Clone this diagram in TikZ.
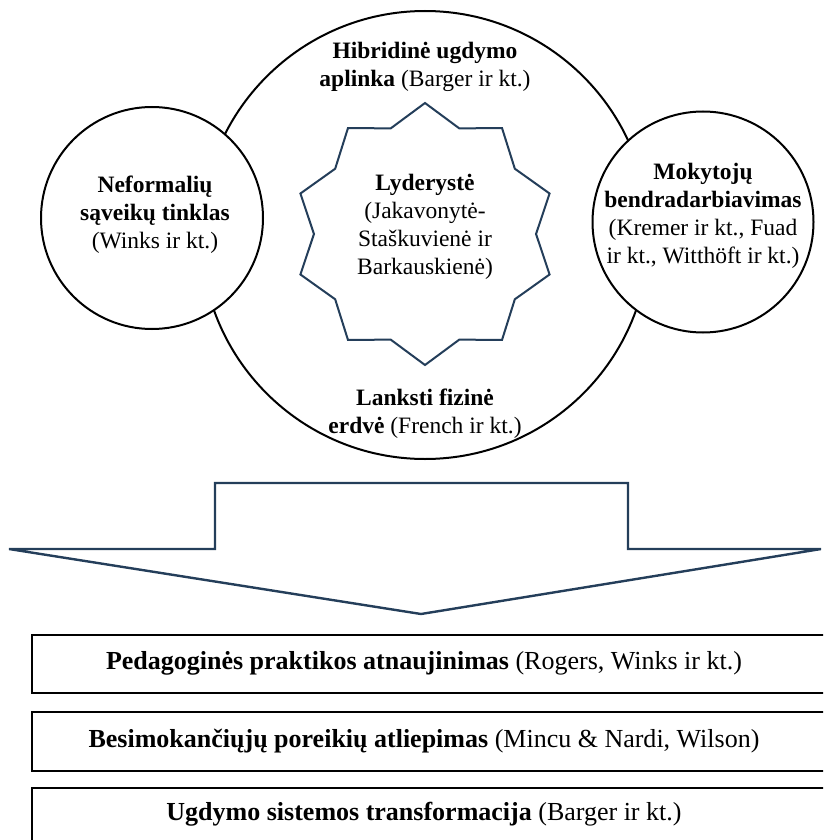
\documentclass[tikz,border=0pt]{standalone}
\usepackage{fontspec}
\setmainfont{Liberation Serif}
\usetikzlibrary{shapes.geometric}
\definecolor{navy}{RGB}{36,62,90}
\begin{document}
\begin{tikzpicture}[x=1pt,y=-1pt,
  ring/.style={circle,draw=black,line width=2pt,fill=white,inner sep=0pt},
  lbl/.style={align=center,font=\fontsize{23.5}{28}\selectfont,inner sep=0pt},
  boxlbl/.style={align=center,font=\fontsize{26}{30}\selectfont,inner sep=0pt},
  outcome/.style={draw=black,line width=1.6pt,fill=white,inner sep=0pt,anchor=north west},
  flow/.style={draw=navy,line width=2.4pt,line join=miter}]
\useasboundingbox (0,0) rectangle (823,840);
\clip (0,0) rectangle (823,840);

% outer environment circle
\node[ring,minimum size=448pt] (env) at (425,235) {};
% side circles drawn on top
\node[ring,minimum size=222pt] (left) at (152,218) {};
\node[ring,minimum size=221pt] (right) at (703,222) {};

% central star
\node[star,star points=10,star point ratio=1.18,draw=navy,line width=2pt,
      minimum size=262pt,inner sep=0pt] (lead) at (425,234) {};

% labels
\node[lbl] (envtop) at (425,67) {\textbf{Hibridinė ugdymo}\\\textbf{aplinka} (Barger ir kt.)};
\node[lbl] (envbot) at (425,414) {\textbf{Lanksti fizinė}\\\textbf{erdvė} (French ir kt.)};
\node[lbl] (leadtxt) at (lead.center) [yshift=7pt] {\textbf{Lyderystė}\\(Jakavonytė-\\Staškuvienė ir\\Barkauskienė)};
\node[lbl] (lefttxt) at (155,215) {\textbf{Neformalių}\\\textbf{sąveikų tinklas}\\(Winks ir kt.)};
\node[lbl] (righttxt) at (703,216) {\textbf{Mokytojų}\\\textbf{bendradarbiavimas}\\(Kremer ir kt., Fuad\\ir kt., Witthöft ir kt.)};

% block arrow
\draw[flow] (215,483) -- (628,483) -- (628,549) -- (821,549) -- (421,614)
  -- (9,549) -- (215,549) -- cycle;

% outcome boxes
\node[outcome,minimum width=810pt,minimum height=58pt] (o1) at (31,634) {};
\node[outcome,minimum width=810pt,minimum height=59pt] (o2) at (31,711) {};
\node[outcome,minimum width=810pt,minimum height=70pt] (o3) at (31,787) {};
\node[boxlbl] at (o1.center -| 424,0) {\textbf{Pedagoginės praktikos atnaujinimas} (Rogers, Winks ir kt.)};
\node[boxlbl] at (o2.center -| 424,0) {\textbf{Besimokančiųjų poreikių atliepimas} (Mincu \& Nardi, Wilson)};
\node[boxlbl] at (424,814) {\textbf{Ugdymo sistemos transformacija} (Barger ir kt.)};
\end{tikzpicture}
\end{document}
